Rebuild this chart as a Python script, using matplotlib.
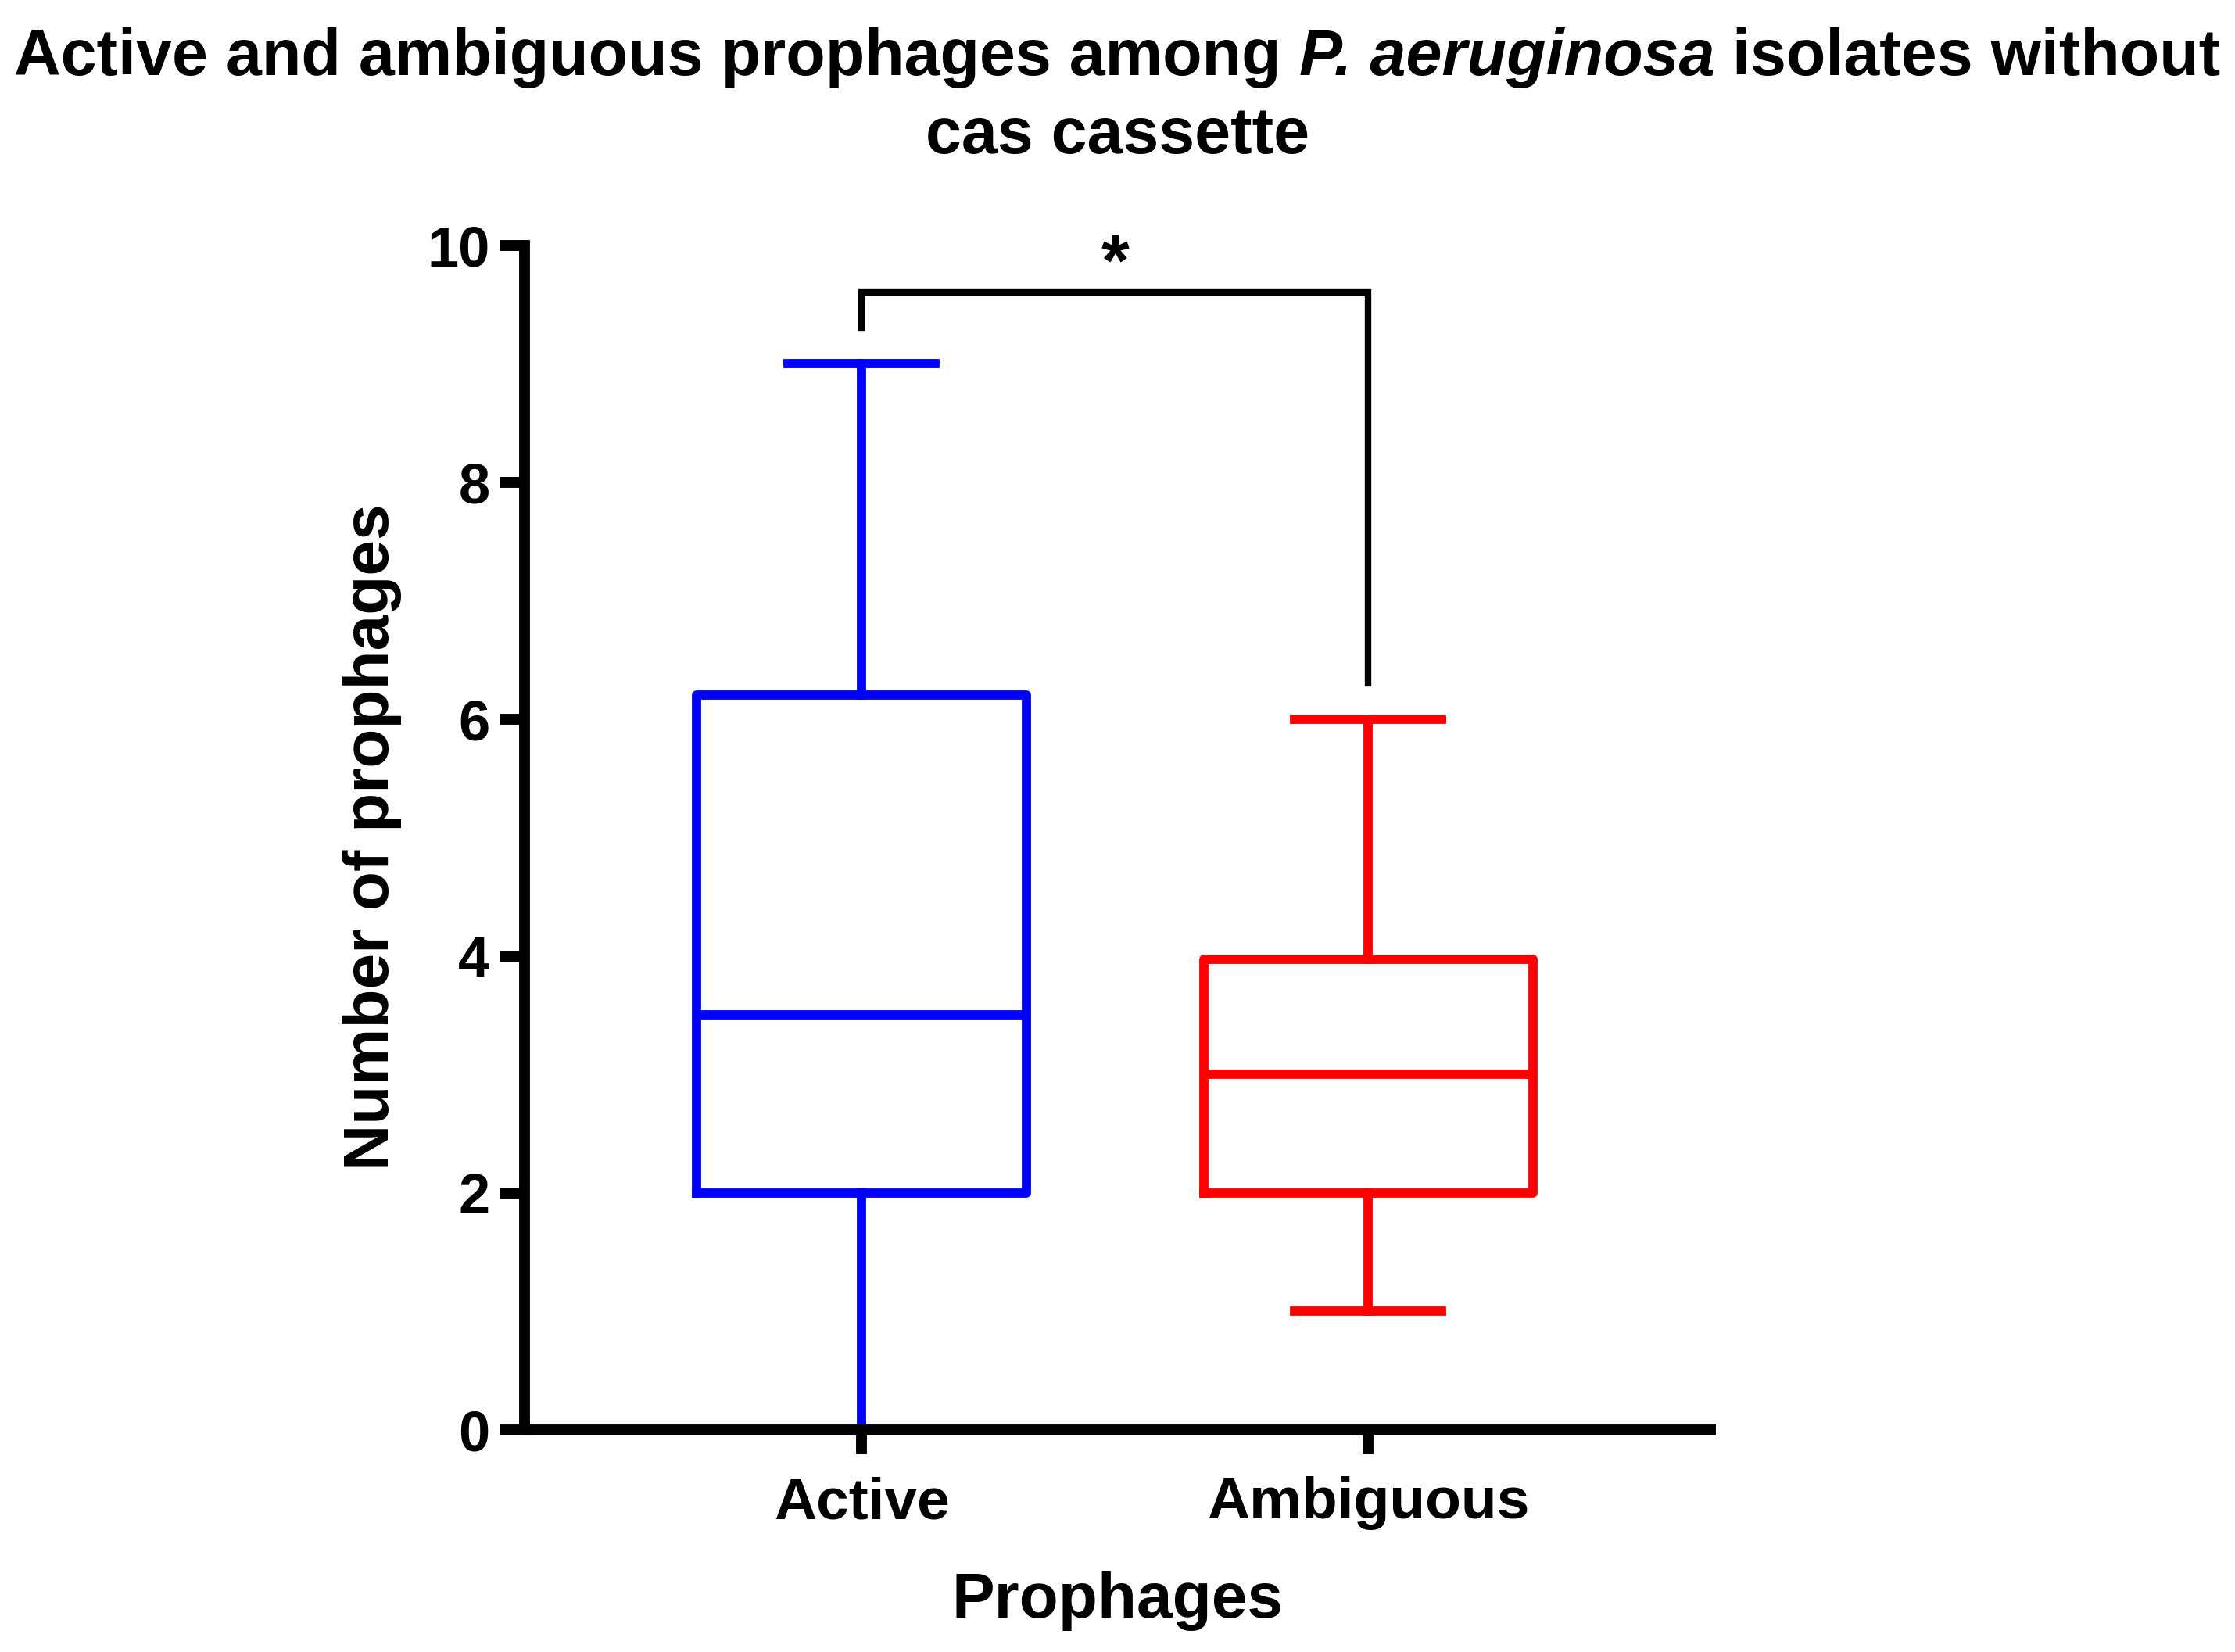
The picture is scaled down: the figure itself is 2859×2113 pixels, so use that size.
import matplotlib
matplotlib.use("Agg")
import matplotlib.pyplot as plt

plt.rcParams['font.family'] = ['Liberation Sans', 'DejaVu Sans']
plt.rcParams['font.weight'] = 'bold'

# box summary values
groups = ['Active', 'Ambiguous']
mins = [0, 1]
q1s = [2, 2]
medians = [3.5, 3]
q3s = [6.2, 3.97]
maxs = [9, 6]
colors = ['#0000FF', '#FF0000']

# significance bracket
bracket_left_y = 9.3
bracket_top_y = 9.6
bracket_right_y = 6.3
sig_label = '*'

# title pieces (the species name is in italics)
title_parts = ['Active and ambiguous prophages among', 'P. aeruginosa', 'isolates without']
title_styles = ['normal', 'italic', 'normal']
title_line2 = 'cas cassette'

fig = plt.figure(figsize=(28.59, 21.13), dpi=100)
ax = fig.add_axes([0.2347, 0.1346, 0.5306, 0.717])

stats = []
for i in range(len(groups)):
    stats.append({'med': medians[i], 'q1': q1s[i], 'q3': q3s[i],
                  'whislo': mins[i], 'whishi': maxs[i], 'label': groups[i]})

lw = 8.5
for i, s in enumerate(stats):
    c = colors[i]
    ax.bxp([s], positions=[i], widths=0.65, showfliers=False,
           boxprops=dict(color=c, linewidth=lw),
           medianprops=dict(color=c, linewidth=lw),
           whiskerprops=dict(color=c, linewidth=lw),
           capprops=dict(color=c, linewidth=lw),
           capwidths=0.29, manage_ticks=False)

# bracket
ax.plot([0, 0, 1, 1], [bracket_left_y, bracket_top_y, bracket_top_y, bracket_right_y],
        color='black', linewidth=6, solid_joinstyle='miter', clip_on=False)
ax.text(0.5, bracket_top_y - 0.06, sig_label, ha='center', va='bottom',
        fontsize=66, fontweight='bold')

ax.set_xlim(-0.665, 1.675)
ax.set_ylim(0, 10)
ax.set_yticks([0, 2, 4, 6, 8, 10])
ax.set_xticks(range(len(groups)))
ax.set_xticklabels(groups)

for side in ['top', 'right']:
    ax.spines[side].set_visible(False)
for side in ['left', 'bottom']:
    ax.spines[side].set_linewidth(10)
ax.tick_params(axis='both', length=22, width=10, labelsize=52, pad=10)
ax.tick_params(axis='x', labelsize=54, pad=21)

ax.set_xlabel('Prophages', fontsize=59, fontweight='bold', labelpad=38)
ax.set_ylabel('Number of prophages', fontsize=59, fontweight='bold', labelpad=23)

# title: lay the pieces out side by side on one baseline
tsize = 59.5
renderer = fig.canvas.get_renderer()
W = fig.bbox.width
y1 = 1 - 96 / 2113
y2 = 1 - 196 / 2113

pieces = []
for txt, st in zip(title_parts, title_styles):
    t = fig.text(0, y1, txt, fontsize=tsize, fontweight='bold', fontstyle=st,
                 ha='left', va='baseline')
    pieces.append(t)
probe_a = fig.text(0, 0, 'xx', fontsize=tsize, fontweight='bold')
probe_b = fig.text(0, 0, 'x x', fontsize=tsize, fontweight='bold')
space = probe_b.get_window_extent(renderer).width - probe_a.get_window_extent(renderer).width
probe_a.remove()
probe_b.remove()

widths = [p.get_window_extent(renderer).width for p in pieces]
total = sum(widths) + space * (len(pieces) - 1)
x = (W - total) / 2
for p, w in zip(pieces, widths):
    p.set_x(x / W)
    x += w + space

fig.text(0.5, y2, title_line2, fontsize=tsize, fontweight='bold', ha='center', va='baseline')

fig.savefig('out.png', dpi=100)
